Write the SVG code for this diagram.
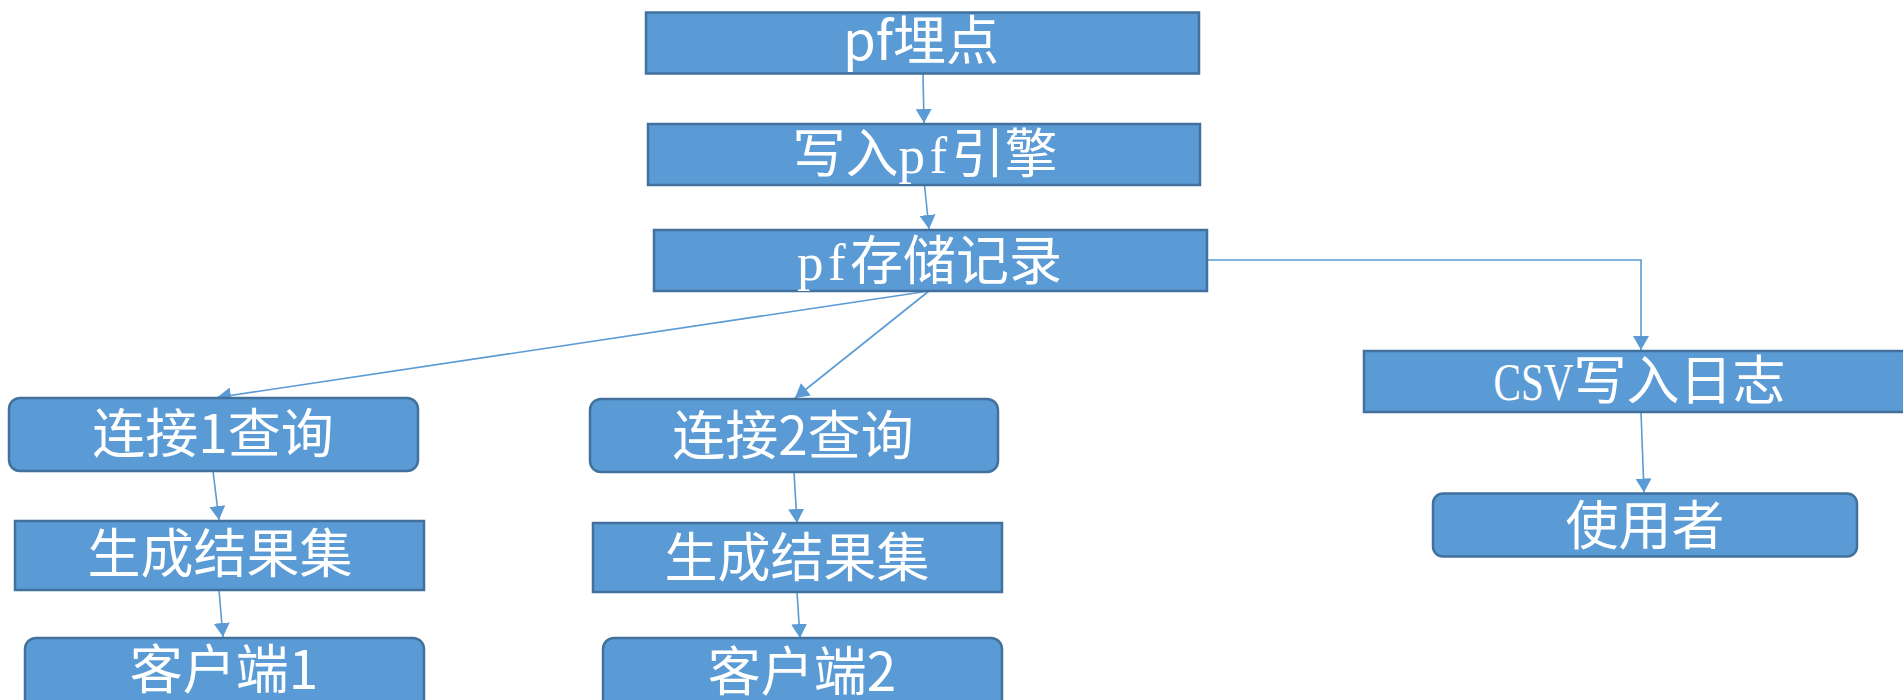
<svg xmlns="http://www.w3.org/2000/svg" width="1903" height="700" viewBox="0 0 1903 700">
<style>
.box{fill:#5B9BD5;stroke:#41719C;stroke-width:2.5}
.t{fill:#fff;text-anchor:middle;font-size:53px}
.sans{font-family:"Noto Sans CJK SC","Liberation Sans",sans-serif}
.serif{font-family:"Liberation Serif","Noto Sans CJK SC",serif}
.c{fill:none;stroke:#5B9BD5;stroke-width:1.6}
</style>
<defs>
<marker id="ah" markerUnits="userSpaceOnUse" viewBox="0 0 14 16" refX="14" refY="8" markerWidth="14" markerHeight="16" orient="auto">
<path d="M0,0 L14,8 L0,16 z" fill="#5B9BD5"/>
</marker>
</defs>
<rect width="1903" height="700" fill="#fff"/>
<g id="connectors">
<line class="c" x1="923" y1="74" x2="924" y2="123" marker-end="url(#ah)"/>
<line class="c" x1="924.5" y1="185" x2="929" y2="229" marker-end="url(#ah)"/>
<line class="c" x1="929" y1="291" x2="217" y2="397.5" marker-end="url(#ah)"/>
<line class="c" x1="929" y1="291" x2="795" y2="398" marker-end="url(#ah)"/>
<polyline class="c" points="1207,260 1641,260 1641,350" marker-end="url(#ah)"/>
<line class="c" x1="1641" y1="412" x2="1644" y2="492.5" marker-end="url(#ah)"/>
<line class="c" x1="213" y1="471" x2="219" y2="520" marker-end="url(#ah)"/>
<line class="c" x1="219" y1="590" x2="223" y2="637" marker-end="url(#ah)"/>
<line class="c" x1="794" y1="472" x2="797" y2="523" marker-end="url(#ah)"/>
<line class="c" x1="797" y1="592" x2="800" y2="638" marker-end="url(#ah)"/>
</g>
<g id="n-maidian">
<rect class="box" x="646" y="12.5" width="553" height="61"/>
<text class="t sans" x="921" y="60">pf埋点</text>
</g>
<g id="n-engine">
<rect class="box" x="648" y="124" width="552" height="61"/>
<text class="t serif" x="925" y="173">写入<tspan letter-spacing="4.5">pf</tspan>引擎</text>
</g>
<g id="n-store">
<rect class="box" x="654" y="230" width="553" height="61"/>
<text class="t serif" x="929.5" y="280"><tspan letter-spacing="4.5">pf</tspan>存储记录</text>
</g>
<g id="n-csv">
<rect class="box" x="1364" y="351" width="545" height="61"/>
<text class="t serif" x="1639.5" y="400"><tspan textLength="80" lengthAdjust="spacingAndGlyphs">CSV</tspan>写入日志</text>
</g>
<g id="n-user">
<rect class="box" x="1433" y="493.5" width="424" height="63" rx="10"/>
<text class="t sans" x="1645" y="544.5">使用者</text>
</g>
<g id="n-conn1">
<rect class="box" x="9" y="398" width="409" height="73" rx="11"/>
<text class="t sans" x="213" y="453">连接1查询</text>
</g>
<g id="n-result1">
<rect class="box" x="15" y="521" width="409" height="69"/>
<text class="t sans" x="220" y="573">生成结果集</text>
</g>
<g id="n-client1">
<rect class="box" x="25" y="638" width="399" height="80" rx="11"/>
<text class="t sans" x="224" y="689">客户端1</text>
</g>
<g id="n-conn2">
<rect class="box" x="590" y="399" width="408" height="73" rx="11"/>
<text class="t sans" x="793" y="454.5">连接2查询</text>
</g>
<g id="n-result2">
<rect class="box" x="593" y="523" width="409" height="69"/>
<text class="t sans" x="797" y="576.5">生成结果集</text>
</g>
<g id="n-client2">
<rect class="box" x="603" y="638" width="399" height="80" rx="11"/>
<text class="t sans" x="802" y="691">客户端2</text>
</g>
</svg>
